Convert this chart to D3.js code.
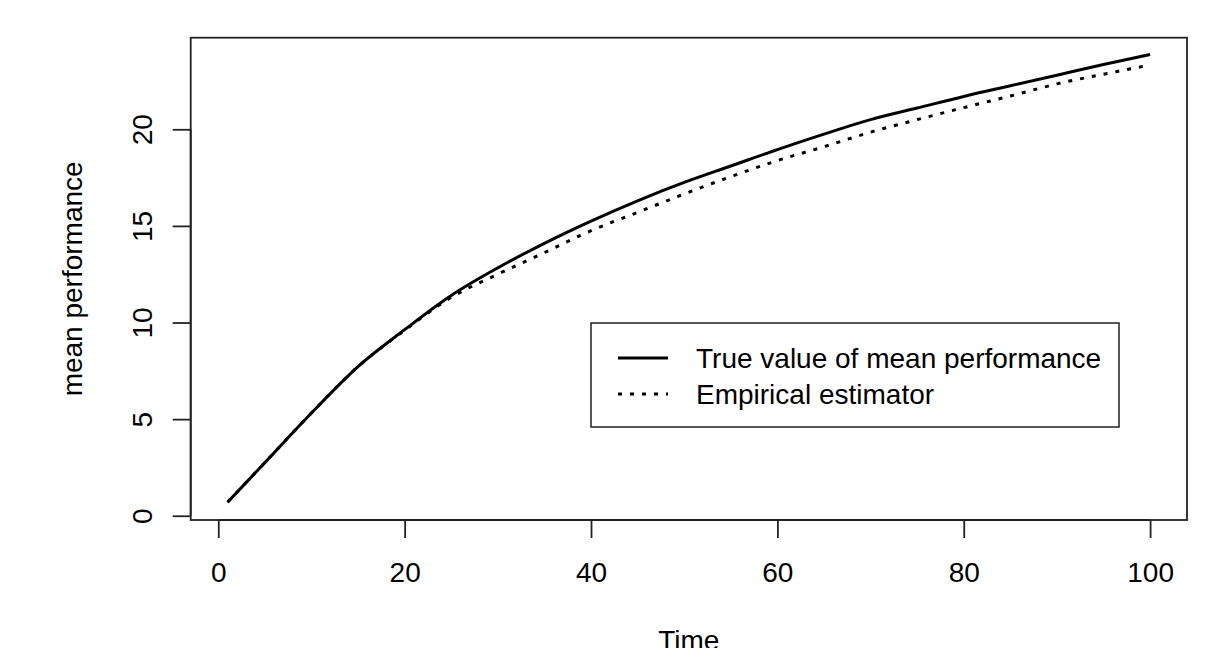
<!DOCTYPE html>
<html>
<head>
<meta charset="utf-8">
<script src="https://cdn.jsdelivr.net/npm/d3@7"></script>
<style>
  body { margin: 0; background: #fff; }
  svg text { font-family: "Liberation Sans", Arial, sans-serif; fill: #000; }
</style>
</head>
<body>
<div id="chart"></div>
<script>
// values
var times = [1, 5, 10, 15, 20, 25, 30, 35, 40, 45, 50, 55, 60, 65, 70, 75, 80, 85, 90, 95, 100];
var trueMean = [0.70, 2.75, 5.32, 7.72, 9.63, 11.40, 12.83, 14.10, 15.25, 16.30, 17.25, 18.10, 18.95, 19.75, 20.50, 21.10, 21.70, 22.25, 22.80, 23.35, 23.87];
var empirical = [0.70, 2.75, 5.32, 7.72, 9.60, 11.30, 12.50, 13.62, 14.75, 15.70, 16.65, 17.55, 18.38, 19.10, 19.85, 20.50, 21.12, 21.72, 22.35, 22.85, 23.33];
var xTicks = [0, 20, 40, 60, 80, 100];
var yTicks = [0, 5, 10, 15, 20];
var legendLabels = ["True value of mean performance", "Empirical estimator"];

var W = 1219, H = 648;
// plot region (named so they don't clash with window.top)
var plotL = 190.7, plotR = 1187, plotT = 37.7, plotB = 520;

var svg = d3.select("#chart").append("svg").attr("width", W).attr("height", H);

var x = d3.scaleLinear().domain([-2.96, 103.96]).range([plotL, plotR]);
var y = d3.scaleLinear().domain([-0.22, 24.74]).range([plotB, plotT]);

// box round the plot
svg.append("rect")
  .attr("x", plotL).attr("y", plotT)
  .attr("width", plotR - plotL).attr("height", plotB - plotT)
  .attr("fill", "none").attr("stroke", "#222").attr("stroke-width", 1.8);

// x axis
var xAxis = svg.append("g")
  .attr("transform", "translate(0," + plotB + ")")
  .call(d3.axisBottom(x).tickValues(xTicks).tickSize(18).tickPadding(24));
xAxis.select(".domain").attr("d", "M" + x(0) + ",0H" + x(100)).attr("stroke", "#222").attr("stroke-width", 1.8);
xAxis.selectAll(".tick line").attr("stroke", "#222").attr("stroke-width", 1.8);
xAxis.selectAll(".tick text").attr("font-size", 28).attr("font-family", "Liberation Sans, Arial, sans-serif");

// y axis, labels parallel to the axis as in R
var yAxis = svg.append("g")
  .attr("transform", "translate(" + plotL + ",0)")
  .call(d3.axisLeft(y).tickValues(yTicks).tickSize(18));
yAxis.select(".domain").attr("d", "M0," + y(0) + "V" + y(20)).attr("stroke", "#222").attr("stroke-width", 1.8);
yAxis.selectAll(".tick line").attr("stroke", "#222").attr("stroke-width", 1.8);
yAxis.selectAll(".tick text")
  .attr("font-size", 28)
  .attr("font-family", "Liberation Sans, Arial, sans-serif")
  .attr("x", null).attr("dy", null)
  .attr("text-anchor", "middle")
  .attr("transform", "translate(-39,0) rotate(-90)");

// axis titles ("Time" sits at the bottom edge, cut like in the original)
svg.append("text")
  .attr("x", (plotL + plotR) / 2).attr("y", 650)
  .attr("text-anchor", "middle").attr("font-size", 28)
  .text("Time");
svg.append("text")
  .attr("transform", "translate(82," + ((plotT + plotB) / 2) + ") rotate(-90)")
  .attr("text-anchor", "middle").attr("font-size", 28)
  .text("mean performance");

// the two lines
var line = function(vals) {
  return d3.line()
    .x(function(d, i) { return x(times[i]); })
    .y(function(d) { return y(d); })
    .curve(d3.curveMonotoneX)(vals);
};

svg.append("path")
  .attr("d", line(empirical))
  .attr("fill", "none").attr("stroke", "#000")
  .attr("stroke-width", 3).attr("stroke-dasharray", "4,8");

svg.append("path")
  .attr("d", line(trueMean))
  .attr("fill", "none").attr("stroke", "#000")
  .attr("stroke-width", 3);

// legend
var lg = svg.append("g");
lg.append("rect")
  .attr("x", 591).attr("y", 323).attr("width", 528).attr("height", 104)
  .attr("fill", "#fff").attr("stroke", "#222").attr("stroke-width", 1.5);

legendLabels.forEach(function(lab, i) {
  var ly = 358 + i * 36;
  lg.append("line")
    .attr("x1", 618).attr("x2", 668).attr("y1", ly).attr("y2", ly)
    .attr("stroke", "#000").attr("stroke-width", 3)
    .attr("stroke-dasharray", i == 1 ? "4,8" : null);
  lg.append("text")
    .attr("x", 696).attr("y", ly + 10)
    .attr("font-size", 28)
    .text(lab);
});
</script>
</body>
</html>
